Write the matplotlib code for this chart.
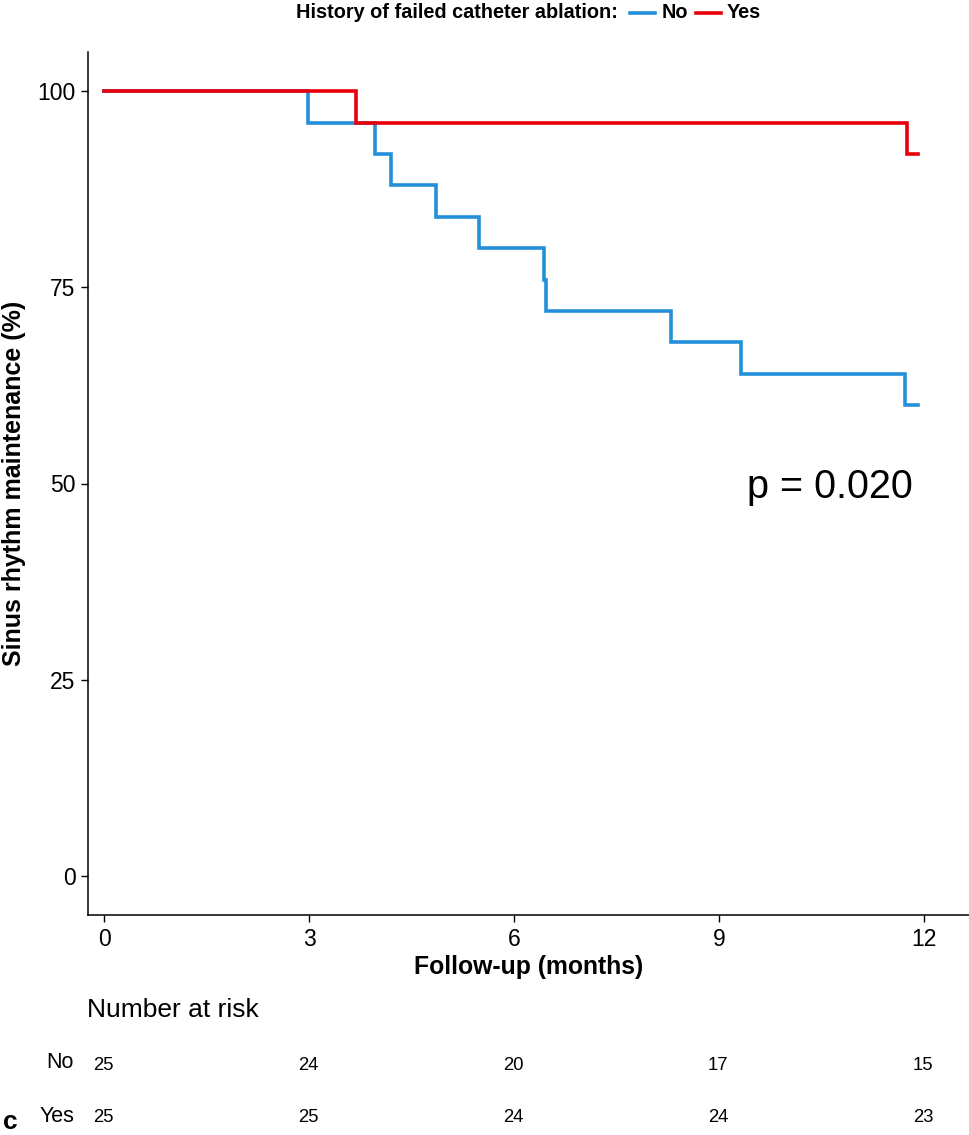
import matplotlib
matplotlib.use("Agg")
import matplotlib.pyplot as plt
from matplotlib.lines import Line2D

plt.rcParams['font.family'] = ['Liberation Sans', 'DejaVu Sans']

# Kaplan-Meier steps (months, %)
no_times = [0, 2.98, 3.96, 4.19, 4.86, 5.49, 6.43, 6.46, 8.29, 9.32, 11.73, 11.92]
no_surv = [100, 96, 92, 88, 84, 80, 76, 72, 68, 64, 60, 60]
yes_times = [0, 3.69, 11.75, 11.91]
yes_surv = [100, 96, 92, 92]

risk_times = [0, 3, 6, 9, 12]
risk_no = [25, 24, 20, 17, 15]
risk_yes = [25, 25, 24, 24, 23]

blue = "#2490DA"
red = "#E8000B"

fig = plt.figure(figsize=(9.69, 11.35), dpi=100)
ax = fig.add_axes([88 / 969, (1135 - 915) / 1135, 1 - 88 / 969, (915 - 52) / 1135])

ax.step(no_times, no_surv, where="post", color=blue, lw=2.6, solid_joinstyle="miter")
ax.step(yes_times, yes_surv, where="post", color=red, lw=2.6, solid_joinstyle="miter")

ax.set_xlim(-0.24, 12.66)
ax.set_ylim(-5, 105)
ax.set_xticks([0, 3, 6, 9, 12])
ax.set_yticks([0, 25, 50, 75, 100])
ax.tick_params(labelsize=16.5, length=5, width=1, colors="black", pad=4)
for s in ["top", "right"]:
    ax.spines[s].set_visible(False)
ax.spines["left"].set_linewidth(1.1)
ax.spines["bottom"].set_linewidth(1.1)

ax.set_xlabel("Follow-up (months)", fontsize=17.8, fontweight="bold", labelpad=3)
ax.set_ylabel("Sinus rhythm maintenance (%)", fontsize=18, fontweight="bold", labelpad=8)

ax.text(10.63, 49.6, "p = 0.020", fontsize=28.5, ha="center", va="center")

# legend line at the top
ly = 1 - 13 / 1135
fig.text(618 / 969, ly, "History of failed catheter ablation:", fontsize=14.3,
         fontweight="bold", ha="right", va="center")
fig.add_artist(Line2D([630 / 969, 655 / 969], [ly, ly], color=blue, lw=2.6))
fig.text(662 / 969, ly, "No", fontsize=14.3, fontweight="bold", va="center")
fig.add_artist(Line2D([696 / 969, 721 / 969], [ly, ly], color=red, lw=2.6))
fig.text(727 / 969, ly, "Yes", fontsize=14.3, fontweight="bold", va="center")

# number at risk table
fig.text(87 / 969, 1 - 1010 / 1135, "Number at risk", fontsize=19, va="center")
fig.text(74 / 969, 1 - 1062 / 1135, "No", fontsize=15.5, ha="right", va="center")
fig.text(74 / 969, 1 - 1116 / 1135, "Yes", fontsize=15.5, ha="right", va="center")
for t, n1, n2 in zip(risk_times, risk_no, risk_yes):
    xf = fig.transFigure.inverted().transform(ax.transData.transform((t, 0)))[0]
    fig.text(xf - 1 / 969, 1 - 1065 / 1135, str(n1), fontsize=13.3, ha="center", va="center")
    fig.text(xf - 1 / 969, 1 - 1118 / 1135, str(n2), fontsize=13.3, ha="center", va="center")

fig.text(3 / 969, 1 - 1134 / 1135, "c", fontsize=19, fontweight="bold", va="bottom")

fig.savefig("out.png", dpi=100)
